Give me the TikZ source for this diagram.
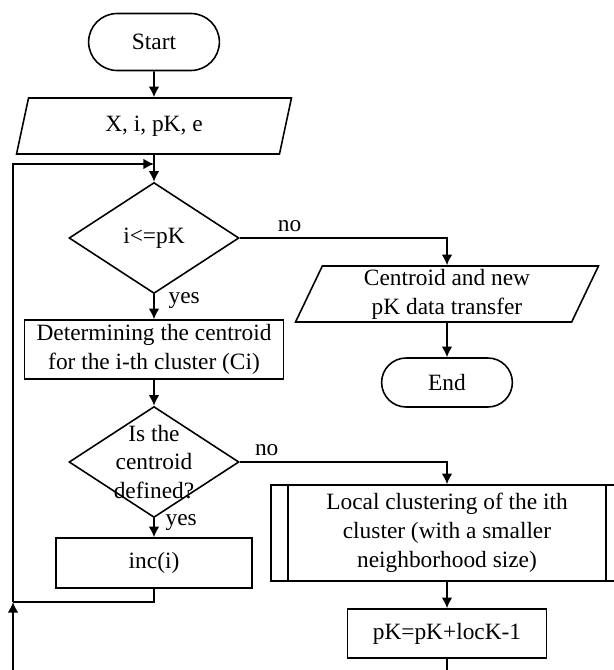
\documentclass[tikz,border=0pt]{standalone}
\usepackage{fontspec}
\setmainfont{Liberation Serif}
\usetikzlibrary{shapes.geometric,shapes.misc,arrows.meta}

\begin{document}
\begin{tikzpicture}[x=0.02cm, y=-0.02cm,
  font=\fontsize{13.3}{16.4}\selectfont,
  line width=0.9pt,
  term/.style={draw, rounded rectangle, minimum width=2.85cm},
  io/.style={draw, trapezium, trapezium left angle=63.4, trapezium right angle=116.6,
    trapezium stretches body, minimum height=1.12cm, align=center, inner sep=1pt},
  proc/.style={draw, rectangle, align=center, inner sep=1pt},
  test/.style={draw, diamond, minimum width=3.4cm, minimum height=2.22cm, inner sep=0pt, align=center},
  arr/.style={-{Latex[length=6pt,width=6pt]}}]
  \useasboundingbox (0,0) rectangle (614,670);
  \clip (0,0) rectangle (614,670);
  % left column
  \node[term, minimum height=1.14cm] (start) at (154,42) {Start};
  \node[io, minimum width=5.5cm] (data) at (154,126) {X, i, pK, e};
  \node[test] (cond) at (154,238) {i<=pK};
  \node[proc, minimum width=5.18cm, minimum height=1.18cm] (cent) at (154,349.5) {Determining the centroid\\for the i-th cluster (Ci)};
  \node[test, label={[align=center]center:{Is the\\centroid\\defined?}}] (def) at (154,462) {};
  \node[proc, minimum width=3.92cm, minimum height=1cm] (inc) at (154,563) {inc(i)};
  % right column
  \node[io, minimum width=6.06cm] (out) at (447,294) {Centroid and new\\pK data transfer};
  \node[term, minimum height=0.98cm] (end) at (447,382.5) {End};
  \node[proc, minimum width=7.04cm, minimum height=1.92cm] (local) at (447,533) {Local clustering of the ith\\cluster (with a smaller\\neighborhood size)};
  \draw ([xshift=0.36cm]local.north west) -- ([xshift=0.36cm]local.south west)
        ([xshift=-0.36cm]local.north east) -- ([xshift=-0.36cm]local.south east);
  \node[proc, minimum width=3.98cm, minimum height=0.98cm] (newk) at (447,633.5) {pK=pK+locK-1};
  \coordinate (merge) at (154,164);
  \coordinate (back) at (13,602);
  % connectors
  \draw[arr] (start.south) -- (data.north);
  \draw (data.south) -- (merge);
  \draw[arr] (merge) -- (cond.north);
  \draw[arr] (cond.south) -- node[right, pos=0.25, xshift=0.16cm] {yes} (cent.north);
  \draw[arr] (cond.east) -| node[above, pos=0.12] {no} (out.north);
  \draw[arr] (out.south) -- (end.north);
  \draw[arr] (cent.south) -- (def.north);
  \draw[arr] (def.south) -- node[right, pos=0.2, xshift=0.1cm] {yes} (inc.north);
  \draw[arr] (def.east) -| node[above, pos=0.065] {no} (local.north);
  \draw[arr] (local.south) -- (newk.north);
  \draw (inc.south) |- (back);
  \draw[arr] (newk.south) -- ++(0,40) -| (back);
  \draw[arr] (back) |- (merge);
\end{tikzpicture}
\end{document}
